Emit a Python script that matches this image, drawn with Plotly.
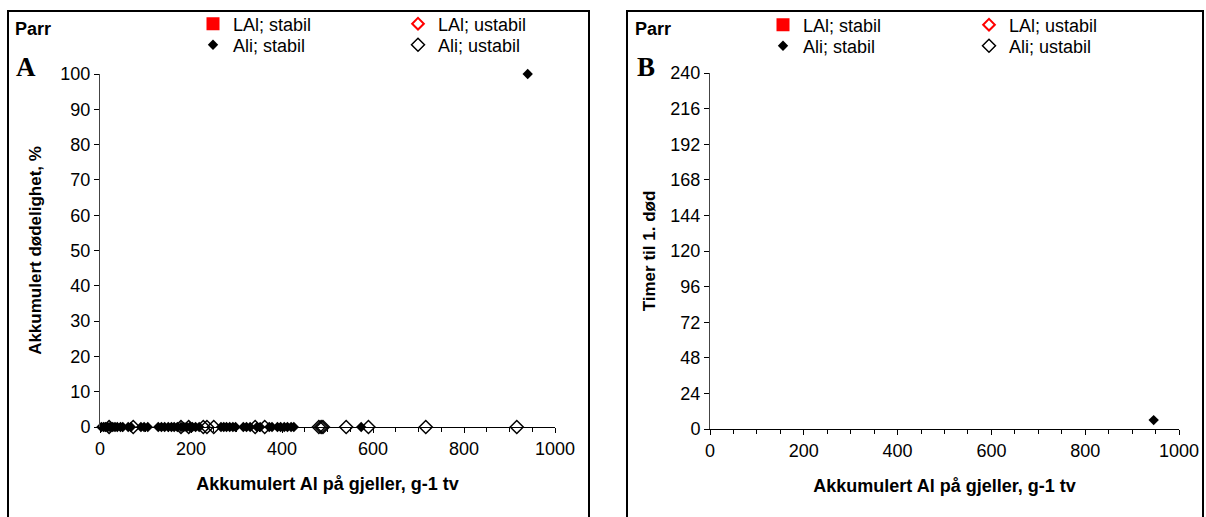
import plotly.graph_objects as graph

# Panel A - akkumulert dødelighet (%) mot akkumulert Al på gjeller
A_stab_x = [3, 8, 12, 17, 22, 28, 33, 38, 45, 50, 62, 68, 90, 97, 105, 128, 135, 142, 150, 157,
            163, 170, 178, 184, 190, 197, 203, 210, 218, 266, 272, 278, 285, 292, 298, 315, 322,
            330, 345, 352, 372, 378, 390, 397, 405, 412, 420, 426, 574, 940]
A_stab_y = [0] * 49 + [100]
A_ustab_x = [20, 73, 178, 195, 227, 235, 250, 341, 362, 481, 486, 490, 541, 590, 716, 916]
A_ustab_y = [0] * 16

# Panel B - timer til 1. død
B_stab_x = [946]
B_stab_y = [6]

FONT = 'Liberation Sans, Arial, sans-serif'
TITLE_X = '<b>Akkumulert Al på gjeller, g-1 tv</b>'
W, H = 1206, 517

fig = graph.Figure()

def add_panel(xa, ya, lgs, stab_x, stab_y, ustab_x, ustab_y):
	if not ustab_x:
		ustab_x, ustab_y = [None], [None]
	fig.add_trace(graph.Scatter(x=[None], y=[None], mode='markers', name='LAl; stabil',
		marker=dict(symbol='square', color='red', size=13), xaxis=xa, yaxis=ya, legend=lgs[0]))
	fig.add_trace(graph.Scatter(x=stab_x, y=stab_y, mode='markers', name='Ali; stabil', cliponaxis=False,
		marker=dict(symbol='diamond', color='black', size=8), xaxis=xa, yaxis=ya, legend=lgs[1]))
	fig.add_trace(graph.Scatter(x=[None], y=[None], mode='markers', name='LAl; ustabil',
		marker=dict(symbol='diamond-open', color='red', size=9, line=dict(width=2)), xaxis=xa, yaxis=ya, legend=lgs[2]))
	fig.add_trace(graph.Scatter(x=ustab_x, y=ustab_y, mode='markers', name='Ali; ustabil', cliponaxis=False,
		marker=dict(symbol='diamond-open', color='black', size=10, line=dict(width=1.5)), xaxis=xa, yaxis=ya, legend=lgs[3]))

add_panel('x', 'y', ['legend', 'legend2', 'legend3', 'legend4'], A_stab_x, A_stab_y, A_ustab_x, A_ustab_y)
add_panel('x2', 'y2', ['legend5', 'legend6', 'legend7', 'legend8'], B_stab_x, B_stab_y, [], [])

xaxis_common = dict(range=[0, 1000], tickmode='linear', tick0=0, dtick=200, ticks='outside', ticklen=5,
	tickcolor='black', showline=True, linecolor='black', linewidth=1, showgrid=False, zeroline=False,
	minor=dict(ticks='outside', ticklen=4, dtick=50, tickcolor='black', showgrid=False),
	tickfont=dict(size=18, color='black'), automargin=False)
yaxis_common = dict(ticks='outside', ticklen=5, tickcolor='black', showline=True, linecolor='#444',
	linewidth=1, showgrid=False, zeroline=False, tickfont=dict(size=18, color='black'), automargin=False)

legend_common = dict(font=dict(size=18, color='black', family=FONT), bgcolor='rgba(0,0,0,0)',
	itemwidth=30, tracegroupgap=0, xanchor='left', yanchor='middle', orientation='v')

# tekststart (px) og radsenter (px) for hver legendeoppføring
leg_pos = [(233, 24), (233, 45), (438, 24), (438, 45), (803, 25), (803, 46), (1009, 25), (1009, 46)]
legends = {}
for i, (tx, ty) in enumerate(leg_pos):
	key = 'legend' if i == 0 else 'legend%d' % (i + 1)
	legends[key] = dict(legend_common, x=(tx - 40) / W, y=(H - ty) / H)

fig.update_layout(
	width=W, height=H,
	margin=dict(l=0, r=0, t=0, b=0),
	paper_bgcolor='white', plot_bgcolor='white',
	font=dict(family=FONT, color='black'),
	xaxis=dict(xaxis_common, domain=[100/W, 555/W], anchor='y',
		title=dict(text=TITLE_X, font=dict(size=18), standoff=19)),
	yaxis=dict(yaxis_common, domain=[90/H, 443/H], anchor='x', range=[0, 100], dtick=10,
		title=dict(text='<b>Akkumulert dødelighet, %</b>', font=dict(size=17), standoff=14)),
	xaxis2=dict(xaxis_common, domain=[710/W, 1179/W], anchor='y2',
		title=dict(text=TITLE_X, font=dict(size=18), standoff=19)),
	yaxis2=dict(yaxis_common, domain=[88/H, 444/H], anchor='x2', range=[0, 240], dtick=24,
		title=dict(text='<b>Timer til 1. død</b>', font=dict(size=17), standoff=10)),
	showlegend=True,
	**legends
)

# ramme rundt hvert panel
for x0, x1 in [(8, 589), (627, 1203)]:
	fig.add_shape(type='rect', xref='paper', yref='paper', x0=x0/W, x1=x1/W, y0=-0.05, y1=(H-11)/H,
		line=dict(color='black', width=2), fillcolor='rgba(0,0,0,0)')

for px, letter in [(13, 'A'), (633, 'B')]:
	fig.add_annotation(text='<b>Parr</b>', xref='paper', yref='paper', x=px/W, y=(H-29)/H,
		xanchor='left', yanchor='middle', showarrow=False, font=dict(size=18))
	fig.add_annotation(text='<b>' + letter + '</b>', xref='paper', yref='paper', x=(px+13)/W, y=(H-67)/H,
		xanchor='center', yanchor='middle', showarrow=False,
		font=dict(size=27, family='Liberation Serif, Times New Roman, serif'))

fig.write_html("out.html", config={'displayModeBar': False},
	post_script="document.body.style.margin='0px';")
